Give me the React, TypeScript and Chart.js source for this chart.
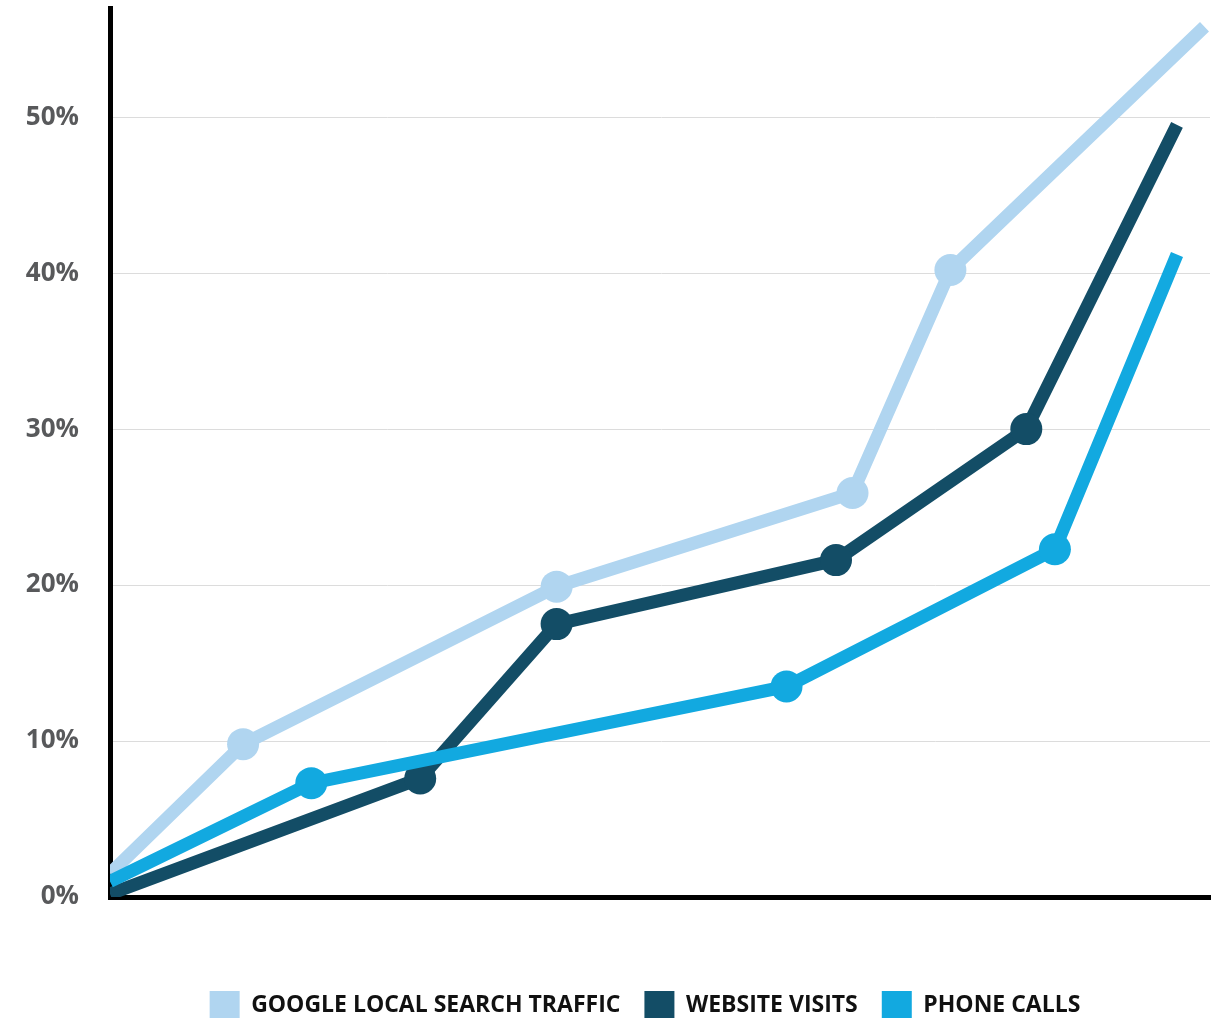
import React, { useEffect, useRef } from "react";
import { Chart, registerables } from "chart.js";

Chart.register(...registerables);

const seriesNames = ["GOOGLE LOCAL SEARCH TRAFFIC", "WEBSITE VISITS", "PHONE CALLS"];
const seriesColors = ["#b0d5f0", "#134d66", "#12a9e0"];

const googleX = [0, 12.1, 40.6, 67.5, 76.4, 99.5];
const googleY = [1.5, 9.8, 19.9, 25.9, 40.2, 55.8];
const websiteX = [0, 28.2, 40.6, 66.0, 83.3, 97.0];
const websiteY = [0.2, 7.6, 17.5, 21.6, 30.0, 49.5];
const phoneX = [0, 18.3, 61.5, 85.9, 97.0];
const phoneY = [1.0, 7.3, 13.5, 22.3, 41.2];

const yTicks = [0, 10, 20, 30, 40, 50];

function pts(xs: number[], ys: number[]) {
  return xs.map((x, i) => ({ x, y: ys[i] }));
}
function radii(n: number) {
  return Array.from({ length: n }, (_, i) => (i === 0 || i === n - 1 ? 0 : 16));
}

const legendShift = {
  id: "legendShift",
  afterLayout(chart: any) {
    if (chart.legend) {
      chart.legend.left += 80;
      chart.legend.right += 0;
    }
  },
};

export default function App() {
  const ref = useRef<HTMLCanvasElement | null>(null);
  useEffect(() => {
    document.body.style.margin = "0";
    const sets = [pts(googleX, googleY), pts(websiteX, websiteY), pts(phoneX, phoneY)];
    const chart = new Chart(ref.current!, {
      type: "scatter",
      plugins: [legendShift],
      data: {
        datasets: sets.map((d, i) => ({
          label: seriesNames[i],
          data: d,
          showLine: true,
          borderColor: seriesColors[i],
          backgroundColor: seriesColors[i],
          borderWidth: 13,
          pointRadius: radii(d.length),
          pointBorderWidth: 0,
          pointBackgroundColor: seriesColors[i],
          order: 3 - i,
        })),
      },
      options: {
        animation: false,
        responsive: false,
        events: [],
        layout: { padding: { top: 8, right: 5, left: 0, bottom: -11 } },
        plugins: {
          tooltip: { enabled: false },
          legend: {
            position: "bottom",
            labels: {
              sort: (a: any, b: any) => a.datasetIndex - b.datasetIndex,
              generateLabels: (c: any) =>
                Chart.defaults.plugins.legend.labels.generateLabels(c).map((l: any) => ({
                  ...l,
                  lineWidth: 0,
                  strokeStyle: "rgba(0,0,0,0)",
                })),
              boxWidth: 30,
              boxHeight: 28,
              padding: 24,
              color: "#111",
              font: { family: "'Open Sans'", weight: "bold", size: 23 },
            },
          },
        },
        scales: {
          x: {
            type: "linear",
            min: 0,
            max: 100,
            ticks: { display: false },
            grid: { display: false, drawTicks: false },
            border: { color: "#000", width: 5 },
            afterFit: (s: any) => {
              s.height = 70;
              s.paddingLeft = 0;
              s.paddingRight = 0;
            },
          },
          y: {
            min: 0,
            max: 57,
            afterBuildTicks: (s: any) => {
              s.ticks = yTicks.map((v) => ({ value: v }));
            },
            ticks: {
              color: "#58595b",
              font: { family: "'Open Sans'", weight: "bold", size: 26 },
              padding: 31,
              callback: (v: any) => v + "%",
            },
            grid: {
              color: (c: any) => (c.tick && c.tick.value === 0 ? "rgba(0,0,0,0)" : "#dcdcdc"),
              lineWidth: 1,
              drawTicks: false,
            },
            border: { color: "#000", width: 5 },
            afterFit: (s: any) => {
              s.width = 110;
              s.paddingTop = 0;
              s.paddingBottom = 0;
            },
          },
        },
      } as any,
    });
    return () => chart.destroy();
  }, []);
  return <canvas ref={ref} width={1215} height={1018} style={{ display: "block" }} />;
}
